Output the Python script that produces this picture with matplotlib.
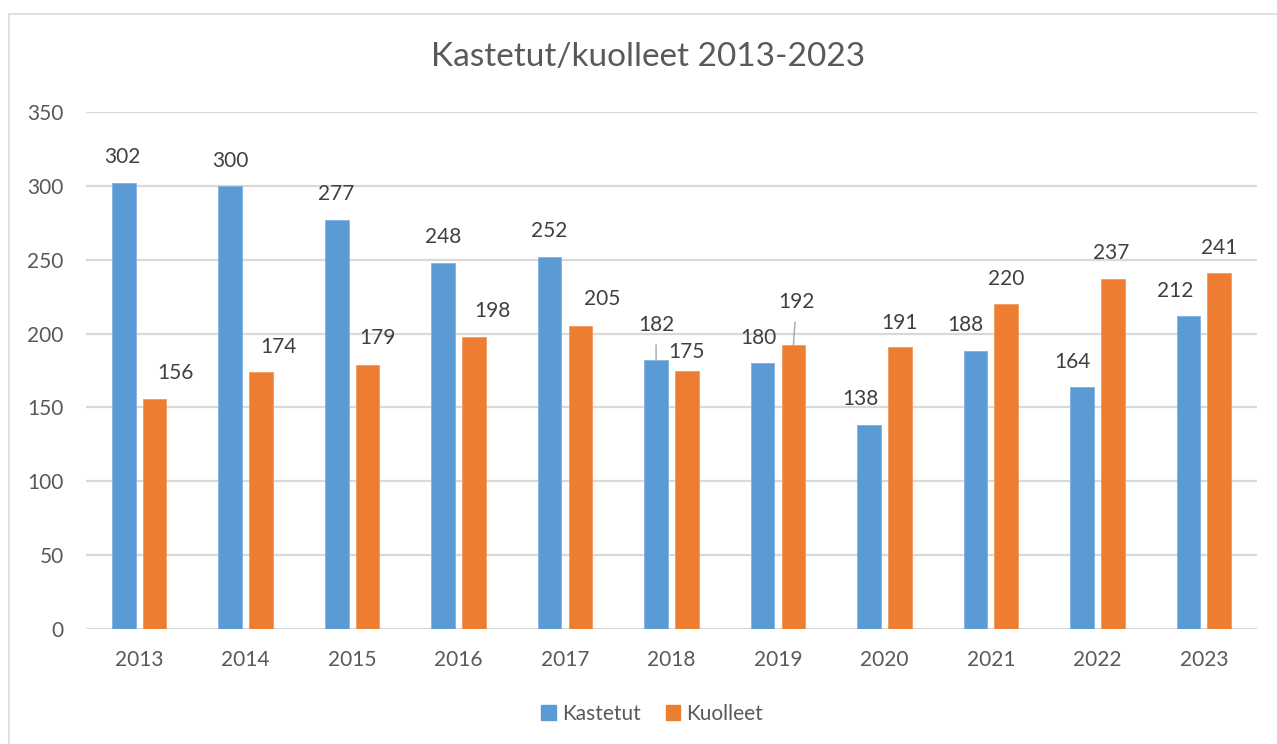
import matplotlib
matplotlib.use("Agg")
import matplotlib.pyplot as plt
from matplotlib.patches import Rectangle
import numpy as np

# ---- data ----
years = ["2013", "2014", "2015", "2016", "2017", "2018", "2019", "2020", "2021", "2022", "2023"]
kastetut = [302, 300, 277, 248, 252, 182, 180, 138, 188, 164, 212]
kuolleet = [156, 174, 179, 198, 205, 175, 192, 191, 220, 237, 241]
series_names = ["Kastetut", "Kuolleet"]
title = "Kastetut/kuolleet 2013-2023"
yticks = [0, 50, 100, 150, 200, 250, 300, 350]

# ---- label placement (pixel offsets from bar top centre) ----
blue_off = [(-1, 26), (0, 25), (-1, 26), (0, 26), (0, 26), (0, 35), (-4, 25), (-9, 26), (-10, 26), (-9, 25), (-13, 25)]
orange_off = [(21, 26), (17, 25), (10, 27), (18, 26), (22, 27), (0, 18), (3, 43), (0, 24), (0, 25), (-2, 26), (0, 25)]
blue_leader = [False, False, False, False, False, True, False, False, False, False, False]
orange_leader = [False, False, False, False, False, False, True, False, False, False, False]

BLUE = "#5B9BD5"
ORANGE = "#ED7D31"
TEXT = "#595959"
LABEL = "#404040"
GRID = "#D9D9D9"
FONT = "Lato"

W, H = 1277, 744
fig = plt.figure(figsize=(W / 100, H / 100), dpi=100)
fig.patch.set_facecolor("white")

# chart border (only top/left visible in reference)
fig.patches.append(Rectangle((9 / W, -0.1), 1.2, 1 - 13.5 / H + 0.1, transform=fig.transFigure,
                             fill=False, edgecolor="#D9D9D9", linewidth=1.2, figure=fig))

ax = fig.add_axes([86 / W, 1 - 629 / H, (1257 - 86) / W, (629 - 112) / H])
x = np.arange(len(years))
bw = 0.222
off = 0.145
b1 = ax.bar(x - off, kastetut, width=bw, color=BLUE, edgecolor="#7FB2E0", linewidth=0.6, zorder=3)
b2 = ax.bar(x + off, kuolleet, width=bw, color=ORANGE, edgecolor="#F29A5C", linewidth=0.6, zorder=3)

ax.set_xlim(-0.5, len(years) - 0.5)
ax.set_ylim(0, 350)
ax.set_yticks(yticks)
ax.set_xticks(x)
ax.set_xticklabels(years)
ax.yaxis.grid(True, color=GRID, linewidth=1.6, zorder=0)
ax.set_axisbelow(True)
for s in ax.spines.values():
    s.set_visible(False)
ax.tick_params(axis="both", length=0, labelsize=15, labelcolor=TEXT)
ax.tick_params(axis="y", pad=16)
ax.tick_params(axis="x", pad=15)
for lbl in ax.get_xticklabels() + ax.get_yticklabels():
    lbl.set_fontfamily(FONT)


def label_bars(bars, vals, offs, leaders):
    for b, v, (dx, dy), lead in zip(bars, vals, offs, leaders):
        cx = b.get_x() + b.get_width() / 2
        kw = dict(xy=(cx, v), xytext=(dx, dy), textcoords="offset pixels",
                  ha="center", va="center", fontsize=15, color=LABEL, fontfamily=FONT, zorder=5)
        if lead:
            kw["arrowprops"] = dict(arrowstyle="-", color="#A6A6A6", lw=1.0, shrinkA=5, shrinkB=0)
        ax.annotate(str(v), **kw)


label_bars(b1, kastetut, blue_off, blue_leader)
label_bars(b2, kuolleet, orange_off, orange_leader)

fig.text(648 / W, 1 - 57 / H, title, ha="center", va="center", fontsize=24, color=TEXT, fontfamily=FONT)

handles = [Rectangle((0, 0), 1, 1, color=BLUE), Rectangle((0, 0), 1, 1, color=ORANGE)]
leg = fig.legend(handles, series_names, loc="center", bbox_to_anchor=(652 / W, 1 - 714 / H),
                 ncol=2, frameon=False, handlelength=0.7, handleheight=0.7, handletextpad=0.3,
                 columnspacing=1.2, prop={"family": FONT, "size": 15})
for t in leg.get_texts():
    t.set_color(TEXT)

fig.savefig("out.png", dpi=100)
